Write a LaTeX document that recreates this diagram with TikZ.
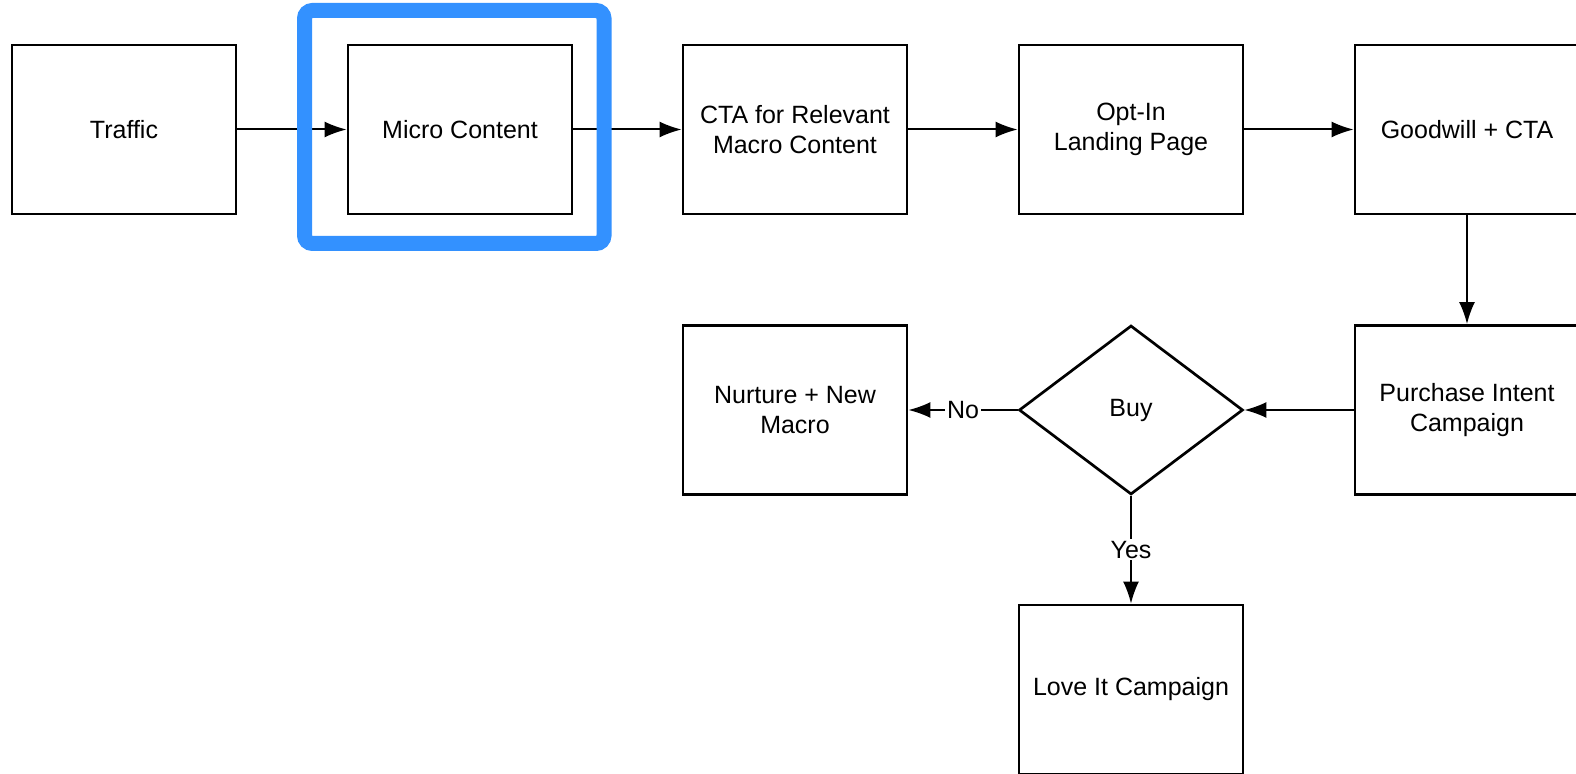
\documentclass[tikz,border=0pt]{standalone}
\usepackage{fontspec}
\setmainfont{Liberation Sans}
\usetikzlibrary{arrows.meta,shapes.geometric}

\definecolor{hiblue}{RGB}{51,145,255}

\begin{document}
\begin{tikzpicture}[x=0.5pt, y=-0.5pt,
  box/.style={draw, line width=1.35pt, minimum width=112pt, minimum height=84.5pt,
    align=center, font=\fontsize{12.5}{15}\selectfont, inner sep=0pt},
  choice/.style={draw, diamond, line width=1.35pt, minimum width=112pt, minimum height=84.5pt,
    inner sep=0pt, font=\fontsize{12.5}{15}\selectfont},
  link/.style={line width=1pt, -{Latex[length=11pt, width=8pt]}},
  tag/.style={fill=white, inner sep=1pt, font=\fontsize{12.5}{15}\selectfont}]

\useasboundingbox (0,0) rectangle (1576,774);

% top row
\node[box] (traffic) at (124,129.5) {Traffic};
\node[box] (micro) at (460,129.5) {Micro Content};
\node[box] (cta) at (795,129.5) {CTA for Relevant\\Macro Content};
\node[box] (optin) at (1131,129.5) {Opt-In\\Landing Page};
\node[box] (goodwill) at (1467,129.5) {Goodwill + CTA};

% middle row
\node[box] (purchase) at (1467,410) {Purchase Intent\\Campaign};
\node[choice] (buy) at (1131,410) {Buy};
\node[box] (nurture) at (795,410) {Nurture + New\\Macro};

% bottom
\node[box] (loveit) at (1131,689.5) {Love It Campaign};

\draw[link] (traffic) -- (micro);
\draw[link] (micro) -- (cta);
\draw[link] (cta) -- (optin);
\draw[link] (optin) -- (goodwill);
\draw[link] (goodwill) -- (purchase);
\draw[link] (purchase) -- (buy.east);
\draw[link] (buy.west) -- node[tag] {No} (nurture);
\draw[link] (buy.south) -- node[tag] {Yes} (loveit);

% highlight round the micro content, on top of the links
\draw[hiblue, line width=7.5pt, rounded corners=4pt] (304.5,10.5) rectangle (604,243.5);

\end{tikzpicture}
\end{document}
